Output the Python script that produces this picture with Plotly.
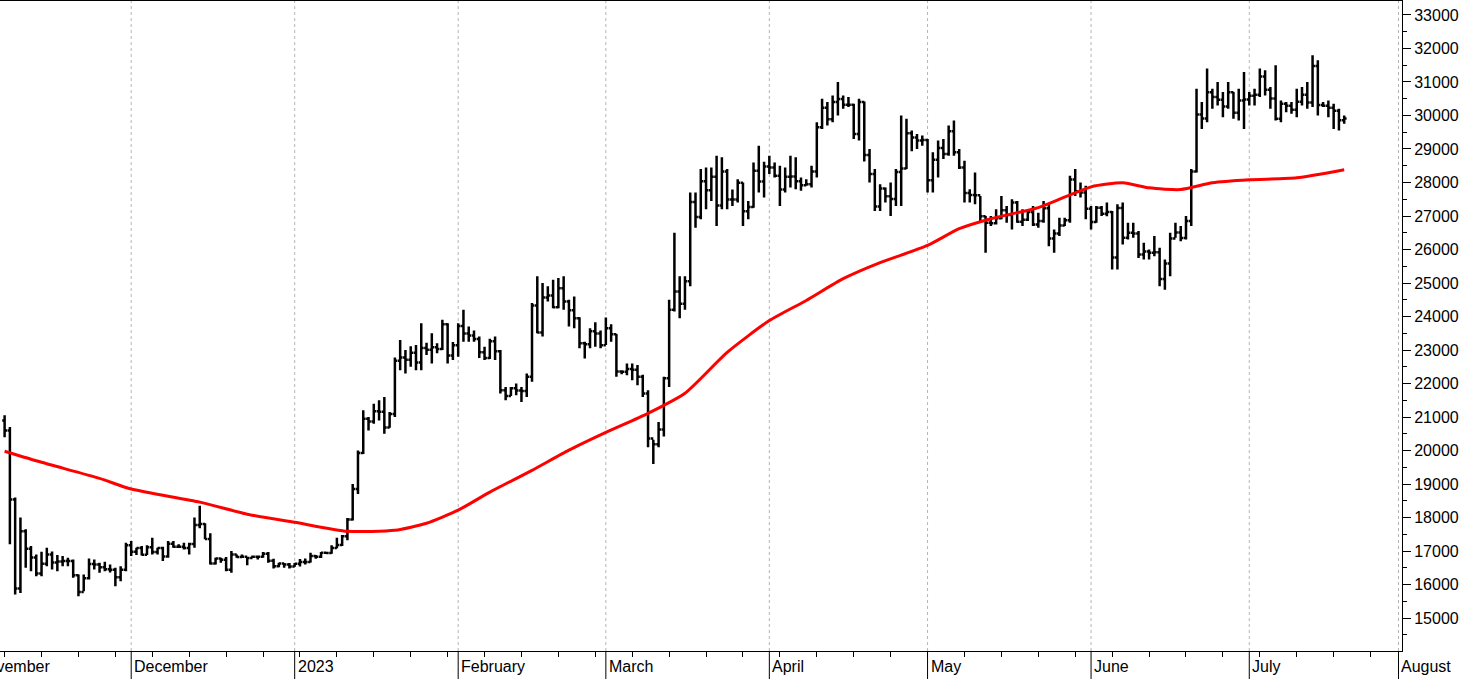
import pandas as pd
import plotly.graph_objects as go

# ---- daily data, per month (first date of each block) ----
month_starts = ["2022-11-07", "2022-12-01", "2023-01-01", "2023-02-01", "2023-03-01",
                "2023-04-01", "2023-05-01", "2023-06-01", "2023-07-01"]
closes_m = [
 [20600,18540,15880,17590,17070,16810,16330,16620,16900,16660,16690,16700,16700,16280,15780,16190,16610,16600,16520,16460,16440,16220,16440,17170],
 [16980,17090,16890,17110,16970,17090,16840,17220,17130,17130,17090,17210,17780,17810,17360,16630,16780,16740,16440,16900,16820,16830,16790,16830,16830,16920,16710,16550,16630,16600,16540],
 [16620,16670,16670,16850,16830,16950,16940,17090,17180,17440,17940,18850,19930,20950,20870,21170,21160,20690,21090,22680,22780,22710,22920,22630,23060,23010,23080,23030,23770,22840,23140],
 [23720,23490,23430,23330,22930,22760,23260,22960,21800,21630,21860,21790,21780,22200,24330,23520,24570,24630,24280,24840,24450,24190,23950,23200,23170,23560,23490,23140],
 [23650,23470,22360,22350,22430,22410,22200,21700,20360,20190,20630,22160,24200,24750,24380,25050,27420,26970,28040,27770,28170,27310,28330,27490,27490,27990,27140,27270,28350,28030,28480],
 [28450,28200,27790,28170,28180,28040,27920,27950,28330,29650,30230,29890,30400,30490,30320,30320,29450,30400,28820,28250,27280,27820,27590,27510,28310,28420,29470,29340,29250,29270],
 [28070,28680,29030,28850,29530,28900,28450,27690,27630,27620,26990,26800,26780,26930,27170,27030,27400,26830,26890,27120,26750,26850,27230,26330,26480,26720,26870,28090,27740,27700,27220],
 [26820,27250,27070,27120,25760,27240,26350,26500,26480,25850,25940,25900,25920,25120,25580,26330,26510,26340,26850,28330,30030,29910,30690,30550,30470,30270,30690,30080,30450,30480],
 [30590,30620,31160,30770,30510,29900,30350,30290,30170,30410,30620,30390,31480,30310,30290,30230,30140,29860,29910],
]
highs_m = [
 [21050,20700,18600,18000,17650,17150,16900,16980,17100,16990,16880,16850,16800,16750,16300,16300,16780,16750,16650,16680,16600,16500,16550,17250],
 [17300,17100,17150,17170,17400,17100,17130,17300,17300,17200,17250,17250,18000,18350,17830,17530,16800,16800,16820,17000,16900,16900,16830,16870,16860,16970,16970,16770,16650,16640,16640],
 [16640,16760,16780,16950,16880,16970,16960,17170,17400,17480,17990,19000,20000,21200,21000,21400,21500,21600,21150,22780,23300,23000,23110,23150,23800,23220,23500,23200,23900,23800,23240],
 [23800,24200,23700,23580,23400,23100,23340,23400,23000,21900,21900,22000,21900,22300,24400,25200,25000,24900,25100,25150,25200,24500,24600,23980,23250,23650,23830,23580],
 [23970,23770,23480,22400,22600,22600,22550,22260,21800,20320,20850,22200,24500,26500,25200,25200,27700,27700,28400,28450,28450,28800,28750,28400,27790,28100,28000,27450,28600,29100,28620],
 [28800,28600,28500,28450,28800,28750,28150,28100,28500,29800,30500,30400,30600,31000,30600,30550,30350,30500,30420,29000,28400,27950,27850,28000,28400,30000,29900,29550,29450,29400],
 [29300,28900,29250,29300,29700,29850,29000,28650,27800,28300,27600,27000,27000,27200,27600,27300,27500,27450,27200,27150,27300,27100,27450,27350,26600,26950,26950,28200,28400,28000,27900],
 [27300,27300,27300,27400,27150,27350,27400,26800,26800,26550,26200,26000,26400,26050,25700,26500,26800,26700,27000,28400,30800,30400,31400,30800,31000,30700,31000,30700,30800,31300],
 [30700,30800,31400,31350,30850,31500,30450,30400,30400,30800,30850,31000,31800,31650,30400,30450,30350,30200,30000],
]
lows_m = [
 [20400,17200,15700,15750,16500,16400,16250,16250,16550,16450,16400,16550,16550,16200,15650,15800,16150,16450,16350,16400,16360,15950,16100,16400],
 [16850,16880,16870,16880,16900,16900,16700,16800,17100,17100,17050,16900,17100,17680,17350,16600,16600,16650,16400,16350,16800,16800,16580,16790,16750,16800,16650,16480,16520,16500,16480],
 [16530,16540,16600,16660,16770,16790,16910,16920,17080,17150,17320,17910,18700,19900,20600,20800,20900,20500,20680,21000,22400,22300,22500,22400,22400,22850,22600,22900,23000,22600,22700],
 [22800,23250,23250,23250,22760,22700,22730,22700,21700,21500,21630,21650,21450,21600,22050,23500,23400,24450,24250,24250,24200,23700,23650,23050,22750,23050,23100,23050],
 [23150,23250,22200,22280,22250,22100,21950,21600,20100,19600,20100,20420,21900,24150,23950,24200,24900,26650,26900,27200,27450,26700,27200,27200,27300,27400,26700,26900,27250,27700,27550],
 [28250,28150,27300,27700,27850,27800,27750,27900,27850,28150,29600,29700,29800,30000,30200,30250,29300,29250,28630,28000,27150,27150,27400,27000,27300,27300,28400,28930,29000,29100],
 [27700,27700,28150,28700,28800,28800,28400,27400,27400,27350,26800,25900,26700,26750,26900,26800,26600,26800,26700,26850,26700,26650,26800,26100,25900,26400,26700,26800,27600,27550,26900],
 [26600,26800,27000,26990,25400,25400,26150,26300,26350,25750,25700,25700,25800,24900,24800,25200,26350,26250,26300,26700,28300,29600,29800,30200,30300,29950,30200,29900,29850,29600],
 [30300,30300,30550,30600,30200,29850,29800,30100,30050,29950,30300,30200,30250,30000,30250,29950,29600,29550,29750],
]
first_open = 20900

# 200-day moving average, read at sampled dates
ma_dates = ["2022-11-07","2022-11-14","2022-11-25","2022-12-01","2022-12-14","2022-12-23","2023-01-01",
            "2023-01-11","2023-01-20","2023-01-26","2023-02-01","2023-02-07","2023-02-15","2023-02-22",
            "2023-03-01","2023-03-09","2023-03-16","2023-03-24","2023-04-01","2023-04-08","2023-04-15",
            "2023-04-22","2023-05-01","2023-05-07","2023-05-13","2023-05-22","2023-06-01","2023-06-07",
            "2023-06-12","2023-06-18","2023-06-24","2023-07-01","2023-07-10","2023-07-19"]
ma_values = [19980,19650,19170,18850,18460,18100,17860,17590,17620,17830,18220,18760,19410,20010,
             20540,21110,21710,22930,23880,24480,25130,25610,26120,26620,26920,27250,27870,27990,
             27840,27790,27990,28080,28140,28380]

month_ticks = ["2022-11-01","2022-12-01","2023-01-01","2023-02-01","2023-03-01","2023-04-01",
               "2023-05-01","2023-06-01","2023-07-01","2023-08-01"]
month_labels = ["November","December","2023","February","March","April","May","June","July","August"]

x_range = ["2022-11-06 03:00", "2023-07-29 23:00"]

# ---- assemble ----
dates, closes, highs, lows = [], [], [], []
for start, c, h, l in zip(month_starts, closes_m, highs_m, lows_m):
    n = min(len(c), len(h), len(l))
    dates += list(pd.date_range(start, periods=n, freq="D"))
    closes += c[:n]; highs += h[:n]; lows += l[:n]
opens = [first_open] + closes[:-1]

fig = go.Figure()
fig.add_trace(go.Ohlc(x=dates, open=opens, high=highs, low=lows, close=closes,
                      increasing=dict(line=dict(color="black", width=2.5)),
                      decreasing=dict(line=dict(color="black", width=2.5)),
                      tickwidth=0.45, showlegend=False, hoverinfo="skip"))
fig.add_trace(go.Scatter(x=pd.to_datetime(ma_dates), y=ma_values, mode="lines",
                         line=dict(color="#ff0000", width=3, shape="spline", smoothing=0.6),
                         showlegend=False, hoverinfo="skip"))

r0, r1 = pd.Timestamp(x_range[0]), pd.Timestamp(x_range[1])
for d in month_ticks:
    px = (pd.Timestamp(d) - r0) / (r1 - r0)
    px = min(px, 0.9975)   # keep the last separator just inside the frame
    fig.add_shape(type="line", xref="paper", yref="paper", x0=px, x1=px, y0=0, y1=1,
                  line=dict(color="#b4b4b4", width=1, dash="dot"), layer="below")
    fig.add_shape(type="line", xref="paper", yref="paper", x0=px, x1=px, y0=0, y1=-0.045,
                  line=dict(color="black", width=1))
for d, t in zip(month_ticks, month_labels):
    px = min((pd.Timestamp(d) - r0) / (r1 - r0), 0.9975)
    fig.add_annotation(x=px, y=-0.008, xref="paper", yref="paper", text=t, showarrow=False,
                       xanchor="left", yanchor="top", xshift=1,
                       font=dict(family="Liberation Sans, Arial", size=16, color="black"))

fig.update_layout(
    width=1476, height=679, margin=dict(l=0, r=74, t=1, b=28),
    plot_bgcolor="white", paper_bgcolor="white",
    xaxis=dict(type="date", range=x_range, rangeslider=dict(visible=False),
               showgrid=False, zeroline=False, showline=True, linecolor="black", linewidth=1, mirror=True,
               tickmode="linear", tick0="2022-11-07", dtick=7*86400000, ticks="outside",
               ticklen=5, tickcolor="black", showticklabels=False),
    yaxis=dict(side="right", range=[14017, 33417], showgrid=False, zeroline=False,
               showline=True, linecolor="black", linewidth=1, mirror=True,
               tickmode="linear", tick0=15000, dtick=1000, ticks="outside", ticklen=8,
               tickformat="d",
               tickcolor="black", tickfont=dict(family="Liberation Sans, Arial", size=16, color="black"),
               minor=dict(dtick=500, tick0=14500, ticks="outside", ticklen=4, tickcolor="black")),
)
fig.write_html("out.html", config={"displayModeBar": False},
               post_script="document.body.style.margin='0';document.body.style.overflow='hidden';")
